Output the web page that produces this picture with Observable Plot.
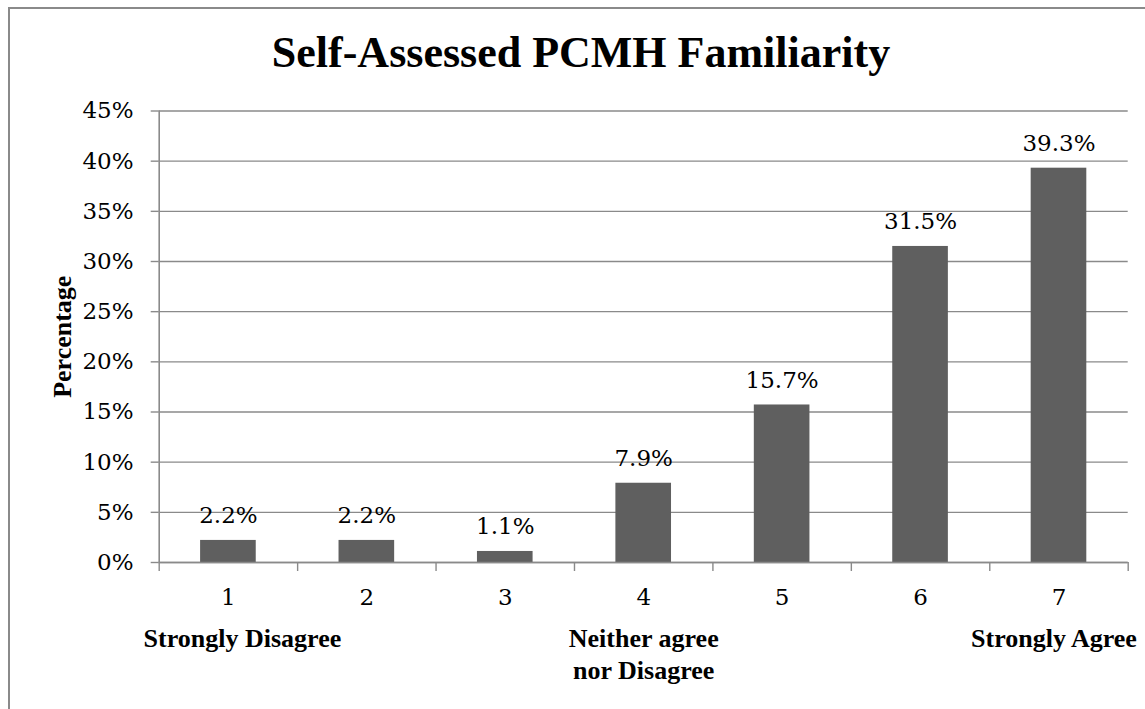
<!DOCTYPE html>
<html>
<head>
<meta charset="utf-8">
<script src="https://cdn.jsdelivr.net/npm/d3@7"></script>
<script src="https://cdn.jsdelivr.net/npm/@observablehq/plot@0.6"></script>
<style>
  html, body { margin: 0; padding: 0; background: #fff; overflow: hidden; }
  #wrap { position: relative; width: 1145px; height: 709px; }
  #frame { position: absolute; left: 8px; top: 7px; width: 1200px; height: 800px;
           border-top: 2px solid #8a8a8a; border-left: 2px solid #8a8a8a; box-sizing: border-box; pointer-events: none; }
  #title { box-sizing: border-box; height: 88px; padding-top: 31px; padding-left: 17px;
           font-family: "Liberation Serif", serif; font-weight: bold; font-size: 44px; line-height: 44px;
           text-align: center; color: #000; }
  #chart svg { display: block; }
</style>
</head>
<body>
<div id="wrap">
  <div id="frame"></div>
  <div id="title">Self-Assessed PCMH Familiarity</div>
  <div id="chart"></div>
</div>
<script>
// ---- data ----
const categories = [1, 2, 3, 4, 5, 6, 7];
const percentages = [2.2, 2.2, 1.1, 7.9, 15.7, 31.5, 39.3];
const yTicks = [0, 5, 10, 15, 20, 25, 30, 35, 40, 45];
const anchorCategories = [1, 4, 7];
const anchorLabels = ["Strongly Disagree", "Neither agree\nnor Disagree", "Strongly Agree"];
const yAxisTitle = "Percentage";

const data = categories.map((c, i) => ({cat: c, value: percentages[i]}));
const boundaries = [categories[0] - 0.5, ...categories.map(c => c + 0.5)];
const anchors = anchorCategories.map((c, i) => ({cat: c, label: anchorLabels[i]}));

const gray = "#8a8a8a";
const barFill = "#5f5f5f";
const boldFont = "Liberation Serif";
const anchorDx = [14, 0, -5];

const chart = Plot.plot({
  width: 1145,
  height: 621,
  marginTop: 22.5,
  marginBottom: 147,
  marginLeft: 158.7,
  marginRight: 17.3,
  style: {fontFamily: "DejaVu Serif", fontSize: "23px", color: "#000", background: "transparent"},
  x: {type: "linear", domain: [boundaries[0], boundaries[boundaries.length - 1]], axis: null},
  y: {domain: [0, 45], axis: null},
  marks: [
    Plot.gridY(yTicks, {stroke: gray, strokeOpacity: 1, strokeWidth: 1.4}),
    Plot.rectY(data, {x1: d => d.cat - 0.5, x2: d => d.cat + 0.5, y: "value",
      insetLeft: 41.4, insetRight: 41.4, fill: barFill}),
    Plot.ruleX([boundaries[0]], {y1: 0, y2: 45, stroke: gray, strokeWidth: 1.6}),
    Plot.ruleY([0], {stroke: gray, strokeWidth: 1.6}),
    Plot.axisY(yTicks, {tickFormat: d => d + "%", tickSize: 8, tickPadding: 17.7,
      stroke: gray, strokeWidth: 1.4, label: null, fill: "#000"}),
    Plot.axisX(boundaries, {tickSize: 9, tickFormat: () => "", stroke: gray, strokeWidth: 1.4, label: null}),
    Plot.axisX(categories, {tickSize: 0, tickPadding: 26.5, tickFormat: d => String(d), label: null, fill: "#000"}),
    Plot.text(data, {x: "cat", y: "value", text: d => d.value.toFixed(1) + "%",
      lineAnchor: "bottom", dy: -17, fill: "#000"}),
    ...anchors.map((a, i) => Plot.text([a], {x: "cat", y: () => 0, text: "label",
      lineAnchor: "top", dy: 62, dx: anchorDx[i], lineHeight: 1.23,
      fontFamily: boldFont, fontWeight: "bold", fontSize: 26, fill: "#000"})),
    Plot.text([yAxisTitle], {frameAnchor: "left", rotate: -90, dx: -97, textAnchor: "middle",
      fontFamily: boldFont, fontWeight: "bold", fontSize: 26, fill: "#000"})
  ]
});
document.getElementById("chart").appendChild(chart);
</script>
</body>
</html>
